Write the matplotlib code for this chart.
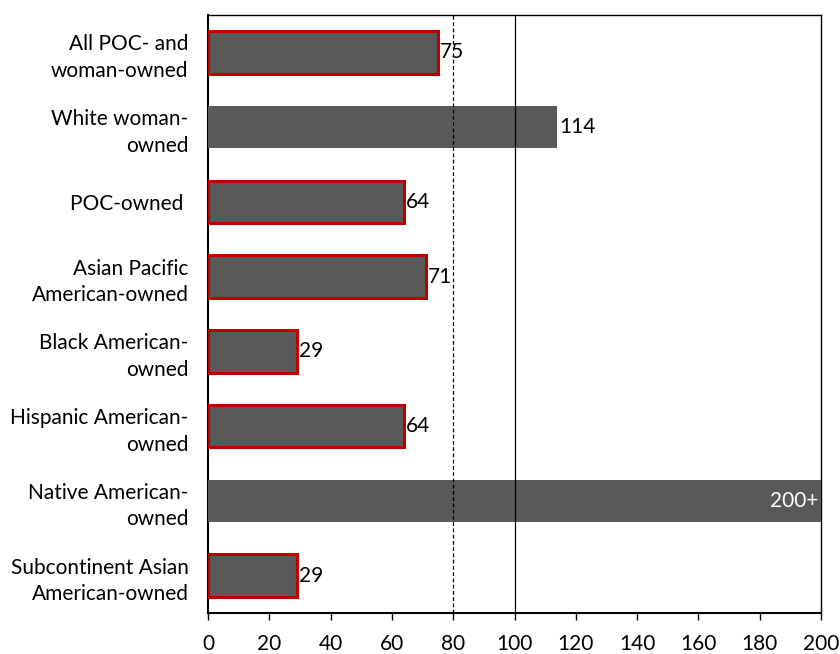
import matplotlib
matplotlib.use("Agg")
import matplotlib.pyplot as plt

categories = [
    "All POC- and\nwoman-owned",
    "White woman-\nowned",
    "POC-owned ",
    "Asian Pacific\nAmerican-owned",
    "Black American-\nowned",
    "Hispanic American-\nowned",
    "Native American-\nowned",
    "Subcontinent Asian\nAmerican-owned",
]
values = [75, 114, 64, 71, 29, 64, 200, 29]
value_labels = ["75", "114", "64", "71", "29", "64", "200+", "29"]
outlined = [True, False, True, True, True, True, False, True]
xticks = [0, 20, 40, 60, 80, 100, 120, 140, 160, 180, 200]

plt.rcParams["font.family"] = ["Lato", "DejaVu Sans"]
FS = 15

fig = plt.figure(figsize=(8.4, 6.54), dpi=100)
ax = fig.add_axes([208 / 840, 1 - 613 / 654, 613 / 840, 598 / 654])

bar_color = "#595959"
red = "#C00000"
ypos = list(range(len(categories)))

for y, v, o in zip(ypos, values, outlined):
    if o:
        ax.barh(y, v, height=0.57, color=bar_color, edgecolor=red, linewidth=2.2, zorder=3)
    else:
        ax.barh(y, v, height=0.57, color=bar_color, linewidth=0, zorder=3)

ax.axvline(80, color="black", linestyle=(0, (3, 2)), linewidth=0.9, zorder=4)
ax.axvline(100, color="black", linewidth=0.9, zorder=4)

for y, v, lab in zip(ypos, values, value_labels):
    if lab.endswith("+"):
        ax.text(v - 1.0, y, lab, ha="right", va="center", color="white", fontsize=FS, zorder=5)
    else:
        ax.text(v + 0.6, y, lab, ha="left", va="center", color="black", fontsize=FS, zorder=5)

ax.set_xlim(0, 200)
ax.set_ylim(len(categories) - 0.5, -0.5)
ax.set_xticks(xticks)
ax.set_xticklabels([str(t) for t in xticks], fontsize=FS)
ax.set_yticks(ypos)
ax.set_yticklabels(categories, fontsize=FS, ha="right", multialignment="right", linespacing=1.4)
ax.tick_params(axis="y", length=0, pad=14)
ax.tick_params(axis="x", length=5, width=1, direction="out", pad=10)

for s in ax.spines.values():
    s.set_linewidth(1.0)
    s.set_color("black")
ax.spines["bottom"].set_linewidth(1.5)
ax.spines["left"].set_linewidth(1.5)

fig.savefig("out.png", dpi=100)
